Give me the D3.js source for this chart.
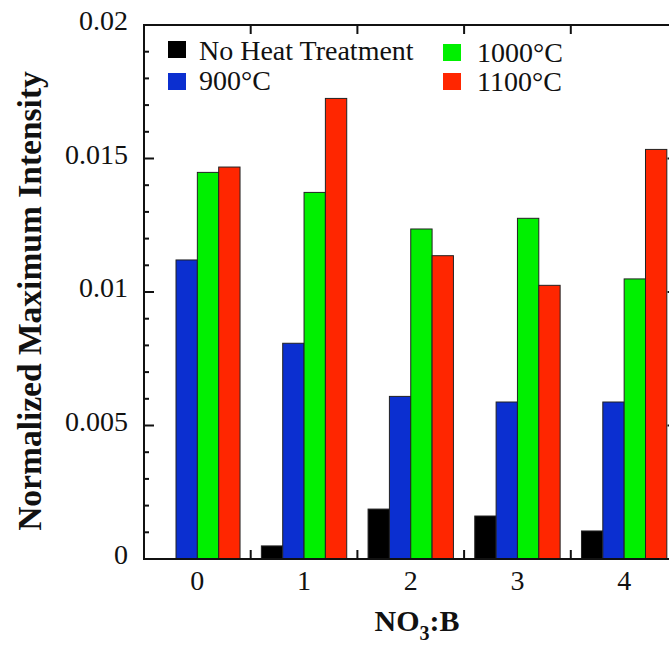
<!DOCTYPE html>
<html>
<head>
<meta charset="utf-8">
<script src="https://cdn.jsdelivr.net/npm/d3@7"></script>
<style>
  html, body { margin: 0; padding: 0; background: #fff; }
  svg { display: block; }
  text { font-family: "Liberation Serif", "Times New Roman", serif; fill: #111; }
</style>
</head>
<body>
<svg id="chart" width="669" height="647"></svg>
<script>
// NO3:B ratio groups
const categories = [0, 1, 2, 3, 4];
// Heat-treatment series
const seriesNames = ["No Heat Treatment", "900°C", "1000°C", "1100°C"];
const seriesColors = ["#000000", "#0b2fd0", "#00f000", "#ff2600"];
// Normalized maximum intensity per series, one value per category
const noHeat  = [0.0000, 0.00049, 0.00187, 0.00161, 0.00105];
const t900    = [0.0112, 0.00808, 0.00609, 0.00588, 0.00588];
const t1000   = [0.01448, 0.01373, 0.01236, 0.01276, 0.01049];
const t1100   = [0.01468, 0.01725, 0.01136, 0.01025, 0.01534];
const seriesValues = [noHeat, t900, t1000, t1100];
// Y axis tick labels
const yTicks = [0, 0.005, 0.01, 0.015, 0.02];
const yTickLabels = ["0", "0.005", "0.01", "0.015", "0.02"];

const svg = d3.select("#chart");

const x = d3.scaleLinear().domain([-0.5, 4.5]).range([144, 677.5]);
const y = d3.scaleLinear().domain([0, 0.02]).range([559, 25]);

const barW = 0.2;

// Bars
seriesValues.forEach((vals, s) => {
  svg.append("g")
    .selectAll("rect")
    .data(categories.map((c, i) => ({ c, v: vals[i] })).filter(d => d.v > 0))
    .join("rect")
    .attr("x", d => x(d.c + (s - 2) * barW))
    .attr("width", d => x(d.c + (s - 1) * barW) - x(d.c + (s - 2) * barW))
    .attr("y", d => y(d.v))
    .attr("height", d => y(0) - y(d.v))
    .attr("fill", seriesColors[s])
    .attr("stroke", "#222")
    .attr("stroke-width", 1);
});

// Frame (axes on all four sides)
const frame = svg.append("g").attr("fill", "none").attr("stroke", "#111").attr("stroke-width", 2);
frame.append("rect")
  .attr("x", x(-0.5)).attr("y", y(0.02))
  .attr("width", x(4.5) - x(-0.5)).attr("height", y(0) - y(0.02));

// Left and right axes: inward ticks, major every 0.005, minor every 0.001
const yMinor = d3.range(0, 21).map(k => k * 0.001);
const tickG = svg.append("g").attr("stroke", "#111").attr("stroke-width", 2);
yMinor.forEach((v, k) => {
  const len = k % 5 === 0 ? 10 : 5;
  tickG.append("line")
    .attr("x1", x(-0.5)).attr("x2", x(-0.5) + len)
    .attr("y1", y(v)).attr("y2", y(v));
  tickG.append("line")
    .attr("x1", x(4.5)).attr("x2", x(4.5) - len)
    .attr("y1", y(v)).attr("y2", y(v));
});

// Top and bottom axes: inward ticks between groups
const xSepTicks = [0.5, 1.5, 2.5, 3.5];
xSepTicks.forEach(t => {
  tickG.append("line")
    .attr("x1", x(t)).attr("x2", x(t))
    .attr("y1", y(0)).attr("y2", y(0) - 9);
  tickG.append("line")
    .attr("x1", x(t)).attr("x2", x(t))
    .attr("y1", y(0.02)).attr("y2", y(0.02) + 9);
});

// Y tick labels
svg.append("g").selectAll("text")
  .data(yTicks)
  .join("text")
  .attr("x", 128)
  .attr("y", d => y(d) + 5)
  .attr("text-anchor", "end")
  .attr("font-size", 28)
  .text((d, i) => yTickLabels[i]);

// X tick labels
svg.append("g").selectAll("text")
  .data(categories)
  .join("text")
  .attr("x", d => x(d))
  .attr("y", 590)
  .attr("text-anchor", "middle")
  .attr("font-size", 28)
  .text(d => d);

// Axis titles
svg.append("text")
  .attr("transform", "translate(41,301) rotate(-90)")
  .attr("text-anchor", "middle")
  .attr("font-size", 33.5)
  .attr("font-weight", "bold")
  .text("Normalized Maximum Intensity");

const xt = svg.append("text")
  .attr("x", 417)
  .attr("y", 631)
  .attr("text-anchor", "middle")
  .attr("font-size", 30)
  .attr("font-weight", "bold");
xt.append("tspan").text("NO");
xt.append("tspan").attr("dy", 9).attr("font-size", 20).text("3");
xt.append("tspan").attr("dy", -9).text(":B");

// Legend
const legendPos = [
  { sx: 168, sy: 41, tx: 199, ty: 60 },
  { sx: 168, sy: 73, tx: 199, ty: 90 },
  { sx: 443, sy: 44, tx: 477, ty: 62 },
  { sx: 443, sy: 73, tx: 477, ty: 91 }
];
const legend = svg.append("g");
seriesNames.forEach((name, s) => {
  const p = legendPos[s];
  legend.append("rect")
    .attr("x", p.sx).attr("y", p.sy)
    .attr("width", 18).attr("height", 17)
    .attr("fill", seriesColors[s]);
  legend.append("text")
    .attr("x", p.tx).attr("y", p.ty)
    .attr("font-size", 28)
    .text(name);
});
</script>
</body>
</html>
